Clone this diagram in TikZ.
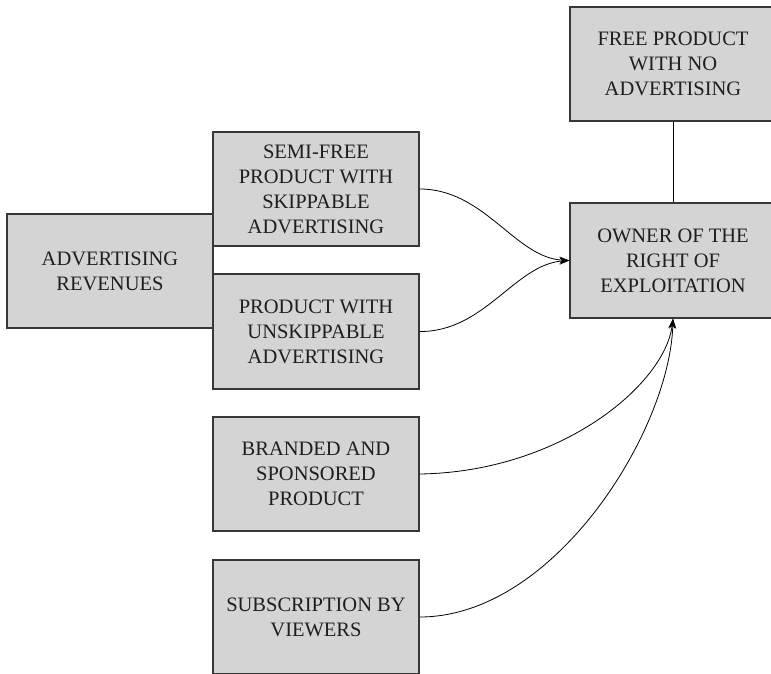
\documentclass[tikz,border=0pt]{standalone}
\usepackage{fontspec}
\setmainfont{Liberation Serif}
\usetikzlibrary{arrows.meta}
\definecolor{boxfill}{RGB}{212,212,212}
\definecolor{boxline}{RGB}{55,55,55}
\definecolor{txt}{RGB}{30,30,30}
\tikzset{
  box/.style={draw=boxline, fill=boxfill, line width=1.2pt, rectangle,
    minimum width=206pt, inner sep=0pt, align=center, text=txt,
    font=\fontsize{20.5pt}{25pt}\selectfont},
  link/.style={draw=black, line width=0.8pt},
  arr/.style={link, -{Stealth[length=10pt,width=7pt]}}
}
\begin{document}
\begin{tikzpicture}[x=1pt,y=-1pt]
\useasboundingbox (0,0) rectangle (771,674);
\clip (0,0) rectangle (771,674);
\node[box, minimum height=114pt] (adv) at (110,271) {ADVERTISING\\REVENUES};
\node[box, minimum height=114pt] (semi) at (316,189) {SEMI-FREE\\PRODUCT WITH\\SKIPPABLE\\ADVERTISING};
\node[box, minimum height=115pt] (unsk) at (316,331.5) {PRODUCT WITH\\UNSKIPPABLE\\ADVERTISING};
\node[box, minimum height=114pt] (brand) at (316,474) {BRANDED AND\\SPONSORED\\PRODUCT};
\node[box, minimum height=114pt] (subs) at (316,617) {SUBSCRIPTION BY\\VIEWERS};
\node[box, minimum height=114pt] (free) at (673,64) {FREE PRODUCT\\WITH NO\\ADVERTISING};
\node[box, minimum height=115pt] (owner) at (673,260.5) {OWNER OF THE\\RIGHT OF\\EXPLOITATION};
\draw[link] (free.south) -- (owner.north);
\draw[arr] (semi.east) .. controls (485,189) and (515,258) .. (owner.west);
\draw[arr] (unsk.east) .. controls (485,332) and (515,264) .. (owner.west);
\draw[arr] (brand.east) .. controls (560,472) and (665,385) .. (owner.south);
\draw[arr] (subs.east) .. controls (555,617) and (670,430) .. (owner.south);
\end{tikzpicture}
\end{document}
